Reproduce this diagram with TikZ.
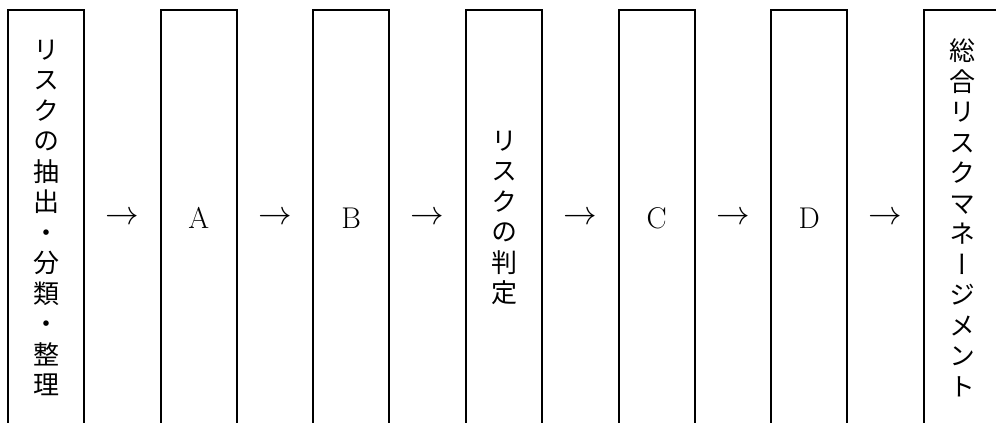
\documentclass[tikz,border=0pt]{standalone}
\usepackage{fontspec}
\newfontfamily\cjk[RawFeature=+vert]{Noto Sans CJK JP}
\begin{document}
\begin{tikzpicture}[x=1pt,y=-1pt,line width=2pt,
  box/.style={minimum width=76pt,minimum height=415pt,inner sep=0pt,outer sep=0pt,anchor=north west},
  vtext/.style={font=\cjk\fontsize{26}{30.5}\selectfont,align=center,inner sep=0pt},
  letter/.style={font=\fontsize{30}{32}\selectfont,inner sep=0pt},
  arr/.style={font=\fontsize{24}{30}\selectfont,inner sep=0pt}]
\clip (0,0) rectangle (996,423);
\foreach \i/\x in {1/8,2/160.7,3/313.3,4/466,5/618.7,6/771.3,7/924}{
  \node[box] (b\i) at (\x,10) {};
  \draw (b\i.south west) -- (b\i.north west) -- (b\i.north east) -- (b\i.south east);
}
\node[vtext] (t1) at (46,218) {リ\\ス\\ク\\の\\抽\\出\\・\\分\\類\\・\\整\\理};
\node[letter] (t2) at (198.7,218) {A};
\node[letter] (t3) at (351.3,218) {B};
\node[vtext] (t4) at (504,218) {リ\\ス\\ク\\の\\判\\定};
\node[letter] (t5) at (656.7,218) {C};
\node[letter] (t6) at (809.3,218) {D};
\node[vtext] (t7) at (962,218) {総\\合\\リ\\ス\\ク\\マ\\ネ\\ー\\ジ\\メ\\ン\\ト};
\foreach \i/\x in {1/122.3,2/275,3/427.7,4/580.3,5/733,6/885.7}{
  \node[arr] (a\i) at (\x,218) {\scalebox{1.35}{$\rightarrow$}};
}
\end{tikzpicture}
\end{document}
